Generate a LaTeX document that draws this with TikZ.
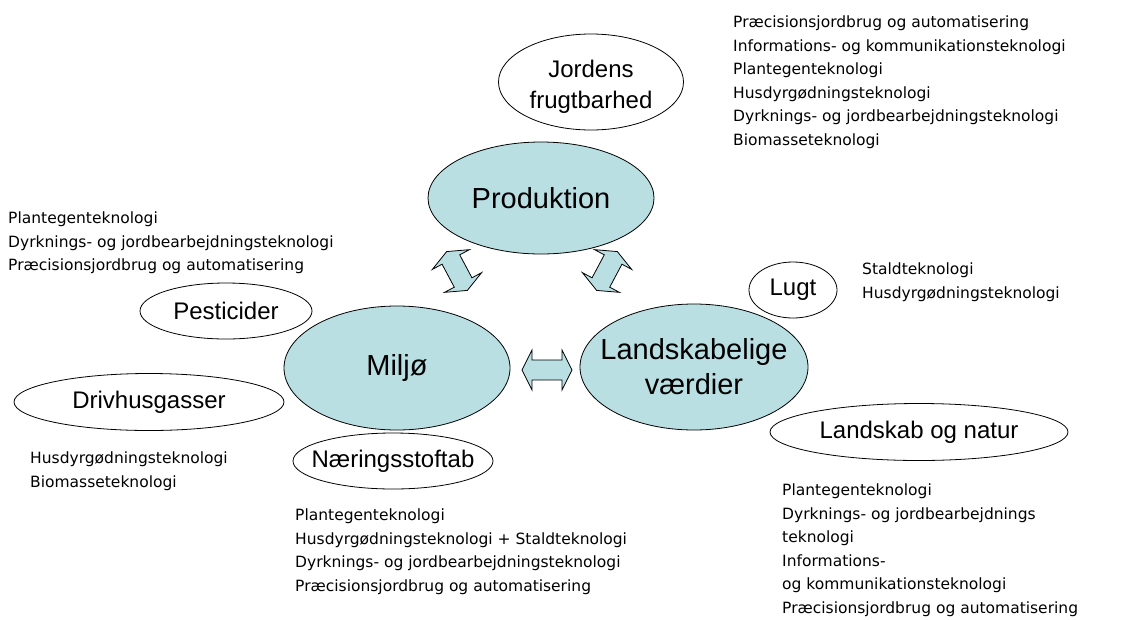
\documentclass[tikz,border=0pt]{standalone}
\usepackage{fontspec}
\setmainfont{Liberation Sans}
\newfontfamily\techfont{DejaVu Sans}
\usetikzlibrary{shapes.geometric}
\definecolor{blobblue}{RGB}{185,223,227}
\tikzset{
  mainblob/.style={ellipse, draw=black, line width=0.8pt, fill=blobblue, inner sep=0pt},
  subblob/.style={ellipse, draw=black, line width=0.8pt, fill=white, inner sep=0pt},
  mainlabel/.style={align=center, inner sep=0pt, font=\fontsize{29}{35}\selectfont},
  sublabel/.style={align=center, inner sep=0pt, font=\fontsize{24}{31}\selectfont},
  techtext/.style={anchor=north west, inner sep=0pt, align=left, font=\techfont\fontsize{15.5}{23.6}\selectfont},
  blockarrow/.style={draw=black, line width=0.8pt, fill=blobblue, line join=miter}
}
\newcommand{\dblarrowshape}{(0,22) -- (21,13) -- (10,13) -- (10,-13) -- (21,-13) -- (0,-22) -- (-21,-13) -- (-10,-13) -- (-10,13) -- (-21,13) -- cycle}
\begin{document}
\begin{tikzpicture}[x=1pt,y=-1pt]
\useasboundingbox (0,0) rectangle (1135,619);
% white sub ellipses and main ellipses
\node[subblob, minimum width=185, minimum height=96,
      label={[sublabel, yshift=-5pt]center:Jordens\\frugtbarhed}] (jord) at (591,82) {};
\node[subblob, minimum width=172, minimum height=56,
      label={[sublabel]center:Pesticider}] (pest) at (226,311) {};
\node[subblob, minimum width=270, minimum height=57,
      label={[sublabel]center:Drivhusgasser}] (driv) at (149,402) {};
\node[mainblob, minimum width=226, minimum height=124,
      label={[mainlabel]center:Milj\o}] (milj) at (397,368) {};
\node[subblob, minimum width=200, minimum height=56,
      label={[sublabel]center:N\ae ringsstoftab}] (naer) at (393,461) {};
\node[subblob, minimum width=88, minimum height=56,
      label={[sublabel]center:Lugt}] (lugt) at (793,290) {};
\node[mainblob, minimum width=228, minimum height=126,
      label={[mainlabel]center:Landskabelige\\v\ae rdier}] (land) at (694,367) {};
\node[subblob, minimum width=298, minimum height=57,
      label={[sublabel]center:Landskab og natur}] (natur) at (919,432) {};
\node[mainblob, minimum width=226, minimum height=112,
      label={[mainlabel]center:Produktion}] (prod) at (541,198) {};
% block arrows
\begin{scope}[shift={(457,271)}, rotate=28]
  \draw[blockarrow] \dblarrowshape;
\end{scope}
\begin{scope}[shift={(607,271)}, rotate=-28]
  \draw[blockarrow] \dblarrowshape;
\end{scope}
\begin{scope}[shift={(547,370)}, rotate=90]
  \draw[blockarrow] (0,25) -- (20,15) -- (10,15) -- (10,-15) -- (20,-15) -- (0,-25) -- (-20,-15) -- (-10,-15) -- (-10,15) -- (-20,15) -- cycle;
\end{scope}
% technology lists
\node[techtext] (t1) at (733,15.5) {Pr\ae cisionsjordbrug og automatisering\\Informations- og kommunikationsteknologi\\Plantegenteknologi\\Husdyrg\o dningsteknologi\\Dyrknings- og jordbearbejdningsteknologi\\Biomasseteknologi};
\node[techtext] (t2) at (8,211.5) {Plantegenteknologi\\Dyrknings- og jordbearbejdningsteknologi\\Pr\ae cisionsjordbrug og automatisering};
\node[techtext] (t3) at (862,262.5) {Staldteknologi\\Husdyrg\o dningsteknologi};
\node[techtext] (t4) at (30,451.5) {Husdyrg\o dningsteknologi\\Biomasseteknologi};
\node[techtext] (t5) at (295,508.5) {Plantegenteknologi\\Husdyrg\o dningsteknologi + Staldteknologi\\Dyrknings- og jordbearbejdningsteknologi\\Pr\ae cisionsjordbrug og automatisering};
\node[techtext] (t6) at (782,483.5) {Plantegenteknologi\\Dyrknings- og jordbearbejdnings\\teknologi\\Informations-\\og kommunikationsteknologi\\Pr\ae cisionsjordbrug og automatisering};
\end{tikzpicture}
\end{document}
